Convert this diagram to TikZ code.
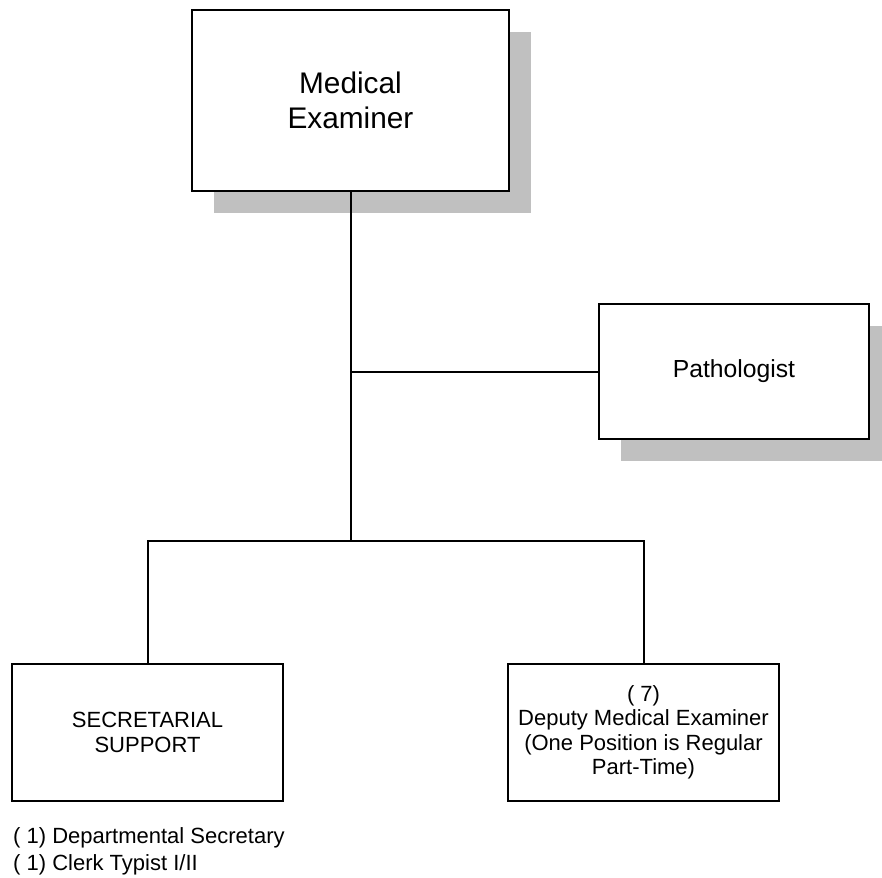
\documentclass[tikz,border=0pt]{standalone}
\usepackage{fontspec}
\setmainfont{Liberation Sans}
\usetikzlibrary{shadows}
\definecolor{shadowgray}{HTML}{C0C0C0}
\begin{document}
\begin{tikzpicture}[x=1pt,y=-1pt,
  orgbox/.style={draw=black, line width=2pt, fill=white, inner sep=0pt, align=center},
  shadowed/.style={drop shadow={shadow xshift=22pt, shadow yshift=-22pt, fill=shadowgray, opacity=1, draw=none}},
  conn/.style={draw=black, line width=2pt},
  bigtext/.style={font=\fontsize{29.8}{35}\selectfont},
  midtext/.style={font=\fontsize{24.7}{29}\selectfont},
  smalltext/.style={font=\fontsize{22}{24.5}\selectfont}]
\useasboundingbox (0,0) rectangle (882,877);
\fill[white] (0,0) rectangle (882,877);
\node[orgbox, shadowed, bigtext, minimum width=317pt, minimum height=181pt] (me) at (350.5,100.5) {Medical\\Examiner};
\node[orgbox, shadowed, midtext, minimum width=270pt, minimum height=135pt] (path) at (734,371.5) {Pathologist};
\node[orgbox, smalltext, minimum width=271pt, minimum height=137pt] (sec) at (147.5,732.5) {SECRETARIAL\\SUPPORT};
\node[orgbox, smalltext, minimum width=271pt, minimum height=137pt] (dep) at (643.5,732.5) {( 7)\\Deputy Medical Examiner\\(One Position is Regular\\Part-Time)};
\coordinate (bus) at (350.5,540.7);
\coordinate (j1) at (me.south |- path.west);
\draw[conn] (me.south) -- (bus);
\draw[conn] (j1) -- (path.west);
\draw[conn] (sec.north) -- (sec.north |- bus) -- (dep.north |- bus) -- (dep.north);
\node[smalltext, anchor=base west, inner sep=0pt] (list1) at (13,843) {( 1) Departmental Secretary};
\node[smalltext, anchor=base west, inner sep=0pt] (list2) at (13,870) {( 1) Clerk Typist I/II};
\end{tikzpicture}
\end{document}
